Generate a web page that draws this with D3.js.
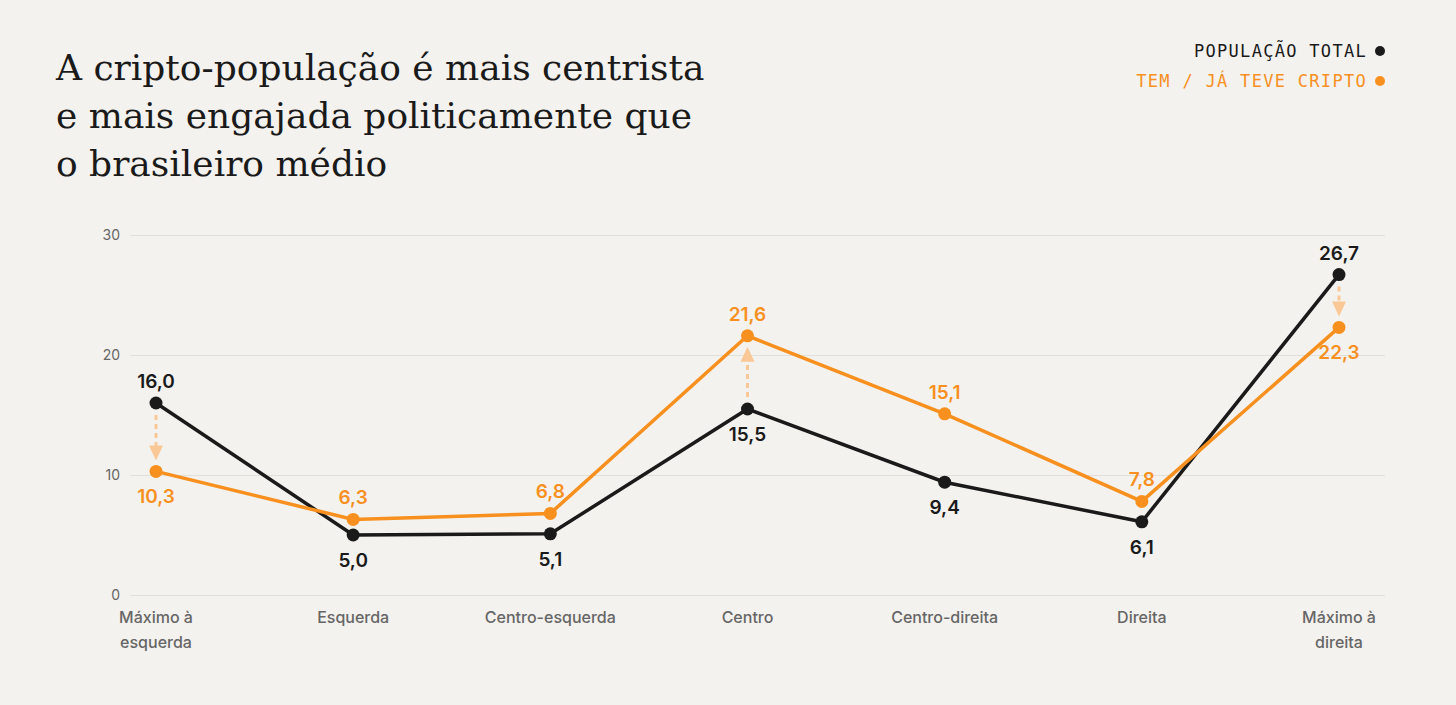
<!DOCTYPE html>
<html lang="pt">
<head>
<meta charset="UTF-8">
<title>Cripto-população</title>
<style>
    body { margin: 0; background: #f4f2ee; }
    .tick text { font-family: Inter, sans-serif; fill: #666; }
</style>
</head>
<body>
<script src="https://d3js.org/d3.v7.min.js"></script>
<script>
    var categories = ["Máximo à|esquerda", "Esquerda", "Centro-esquerda", "Centro", "Centro-direita", "Direita", "Máximo à|direita"];
    var totalValues = [16.0, 5.0, 5.1, 15.5, 9.4, 6.1, 26.7];
    var criptoValues = [10.3, 6.3, 6.8, 21.6, 15.1, 7.8, 22.3];
    var totalLabelAbove = [true, false, false, false, false, false, true];
    var criptoLabelAbove = [false, true, true, true, true, true, false];
    var arrowAt = [0, 3, 6];
    var yTicks = [0, 10, 20, 30];

    var width = 1456, height = 705;
    var black = "#1a1a1a", orange = "#f7901e";

    var svg = d3.select("body").append("svg")
        .attr("width", width)
        .attr("height", height);

    svg.append("rect").attr("width", width).attr("height", height).attr("fill", "#f4f2ee");

    var x = d3.scalePoint().domain(d3.range(categories.length)).range([156, 1339]);
    var y = d3.scaleLinear().domain([0, 30]).range([595, 235]);

    /* title */
    var title = ["A cripto-população é mais centrista", "e mais engajada politicamente que", "o brasileiro médio"];
    svg.selectAll(".title").data(title).enter().append("text")
        .attr("x", 56).attr("y", function (d, i) { return 80 + i * 48; })
        .attr("font-family", "'DejaVu Serif', serif").attr("font-size", "36px")
        .attr("fill", "#1a1a1a").text(function (d) { return d; });

    /* legend */
    var legend = [{t: "POPULAÇÃO TOTAL", c: black, y: 51}, {t: "TEM / JÁ TEVE CRIPTO", c: orange, y: 81}];
    legend.forEach(function (l) {
        svg.append("text").attr("x", 1367).attr("y", l.y + 6).attr("text-anchor", "end")
            .attr("font-family", "'DejaVu Sans Mono', monospace").attr("font-size", "17px")
            .attr("letter-spacing", "1.3px").attr("fill", l.c).text(l.t);
        svg.append("circle").attr("cx", 1380).attr("cy", l.y).attr("r", 5).attr("fill", l.c);
    });

    /* grid and y axis */
    var yAxis = svg.append("g").attr("transform", "translate(130,0)")
        .call(d3.axisLeft(y).tickValues(yTicks).tickSize(-1255).tickPadding(10));
    yAxis.select(".domain").remove();
    yAxis.selectAll(".tick line").attr("stroke", "#e2e0db");
    yAxis.selectAll(".tick text").attr("font-size", "14px").attr("x", -10).attr("dy", "0.32em");

    /* x labels */
    var xl = svg.selectAll(".xl").data(categories).enter().append("text")
        .attr("x", function (d, i) { return x(i); })
        .attr("y", 623)
        .attr("text-anchor", "middle")
        .attr("font-family", "Inter, sans-serif").attr("font-size", "16px").attr("font-weight", 500).attr("fill", "#666");
    xl.each(function (d) {
        var t = d3.select(this);
        d.split("|").forEach(function (p, k) {
            t.append("tspan").attr("x", t.attr("x")).attr("dy", k ? 25 : 0).text(p);
        });
    });

    /* arrows */
    arrowAt.forEach(function (i) {
        var y0 = y(totalValues[i]), y1 = y(criptoValues[i]);
        var dir = y1 > y0 ? 1 : -1;
        svg.append("line")
            .attr("x1", x(i)).attr("x2", x(i))
            .attr("y1", y0 + dir * 12).attr("y2", y1 - dir * 24)
            .attr("stroke", "#f9c896").attr("stroke-width", 3).attr("stroke-dasharray", "5,4");
        svg.append("path")
            .attr("d", "M" + (x(i) - 7) + "," + (y1 - dir * 26) + "L" + (x(i) + 7) + "," + (y1 - dir * 26) + "L" + x(i) + "," + (y1 - dir * 11) + "Z")
            .attr("fill", "#f9c896");
    });

    var line = d3.line().x(function (d, i) { return x(i); }).y(function (d) { return y(d); });
    var fmt = function (v) { return v.toFixed(1).replace(".", ","); };

    function series(vals, col, above) {
        svg.append("path").datum(vals).attr("d", line)
            .attr("fill", "none").attr("stroke", col).attr("stroke-width", 3.5);
        svg.selectAll(null).data(vals).enter().append("circle")
            .attr("cx", function (d, i) { return x(i); }).attr("cy", function (d) { return y(d); })
            .attr("r", 6.5).attr("fill", col);
        svg.selectAll(null).data(vals).enter().append("text")
            .attr("x", function (d, i) { return x(i); })
            .attr("y", function (d, i) { return y(d) + (above[i] ? -15 : 32); })
            .attr("text-anchor", "middle")
            .attr("font-family", "Inter, sans-serif").attr("font-size", "19px").attr("font-weight", 600)
            .attr("fill", col).text(fmt);
    }
    series(totalValues, black, totalLabelAbove);
    series(criptoValues, orange, criptoLabelAbove);
</script>
</body>
</html>
